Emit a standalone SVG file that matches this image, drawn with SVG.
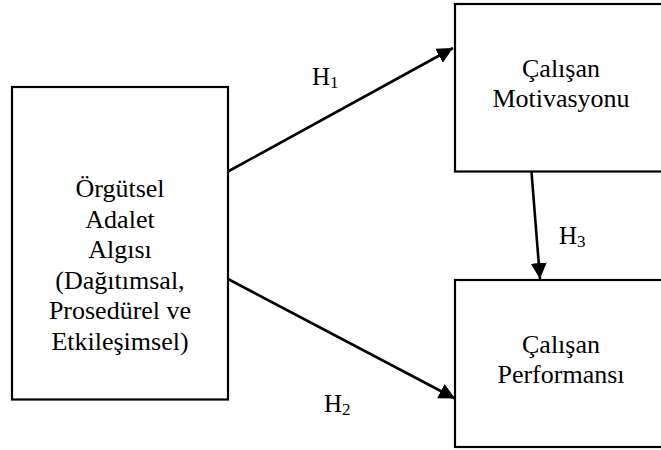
<svg xmlns="http://www.w3.org/2000/svg" width="661" height="450" viewBox="0 0 661 450">
<style>
.box{fill:#fff;stroke:#000;stroke-width:2.2}
.t{font-family:'Liberation Serif','Noto Serif','DejaVu Serif',serif;font-size:26px;fill:#000;text-anchor:middle}
.h{font-family:'Liberation Serif','Noto Serif','DejaVu Serif',serif;font-size:25px;fill:#000}
.sub{font-size:17px}
.edge{stroke:#000;stroke-width:2.6;fill:none}
</style>
<defs>
<marker id="ah" viewBox="0 0 16 16" refX="16" refY="8" markerWidth="16" markerHeight="16" markerUnits="userSpaceOnUse" orient="auto">
<path d="M0,0 L16,8 L0,16 Z" fill="#000"/>
</marker>
</defs>
<rect width="661" height="450" fill="#fff"/>
<g id="connectors">
<line class="edge" x1="228" y1="171.5" x2="453" y2="48" marker-end="url(#ah)"/>
<line class="edge" x1="228" y1="279" x2="455" y2="398.5" marker-end="url(#ah)"/>
<line class="edge" x1="531.5" y1="172" x2="540" y2="279" marker-end="url(#ah)"/>
<text class="h" x="312" y="84.5">H<tspan class="sub" dy="3">1</tspan></text>
<text class="h" x="324" y="411.5">H<tspan class="sub" dy="3.5">2</tspan></text>
<text class="h" x="559" y="243.5">H<tspan class="sub" dy="3.5">3</tspan></text>
</g>
<g id="node-adalet">
<rect class="box" x="12" y="87" width="216" height="312.5"/>
<text class="t" x="120" y="196.5">Örgütsel</text>
<text class="t" x="120" y="227.5">Adalet</text>
<text class="t" x="120" y="258">Algısı</text>
<text class="t" x="120" y="288.5">(Dağıtımsal,</text>
<text class="t" x="120" y="319">Prosedürel ve</text>
<text class="t" x="120" y="349.5">Etkileşimsel)</text>
</g>
<g id="node-motivasyon">
<rect class="box" x="455" y="4" width="212" height="167.5"/>
<text class="t" x="561" y="77">Çalışan</text>
<text class="t" x="561" y="107">Motivasyonu</text>
</g>
<g id="node-performans">
<rect class="box" x="455" y="280" width="212" height="167"/>
<text class="t" x="561" y="353">Çalışan</text>
<text class="t" x="561" y="383">Performansı</text>
</g>
</svg>
